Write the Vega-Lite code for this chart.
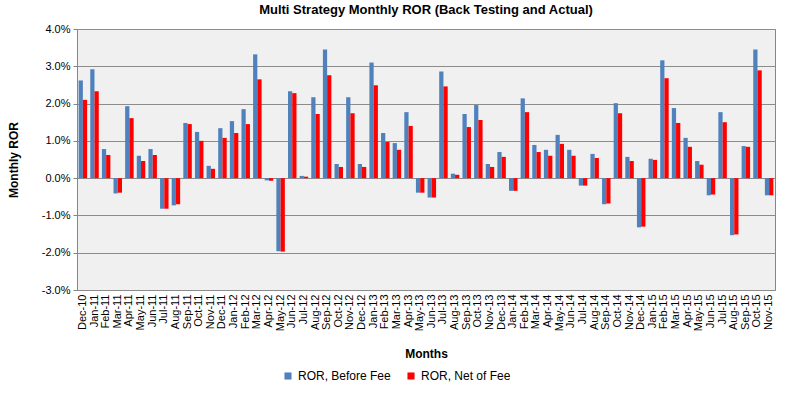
{
  "$schema": "https://vega.github.io/schema/vega-lite/v6.json",
  "width": 698,
  "height": 261,
  "autosize": {"type": "none"},
  "padding": {"left": 77, "top": 29, "right": 13, "bottom": 106},
  "background": "white",
  "title": {
    "text": "Multi Strategy Monthly ROR (Back Testing and Actual)",
    "font": "Liberation Sans Narrow, Liberation Sans, Arial",
    "fontSize": 13,
    "fontWeight": "bold",
    "color": "#000000",
    "anchor": "middle",
    "offset": 6
  },
  "data": {
    "values": [
      {"m": "Dec-10", "b": 2.62, "n": 2.10},
      {"m": "Jan-11", "b": 2.92, "n": 2.33},
      {"m": "Feb-11", "b": 0.78, "n": 0.62},
      {"m": "Mar-11", "b": -0.41, "n": -0.39},
      {"m": "Apr-11", "b": 1.93, "n": 1.61},
      {"m": "May-11", "b": 0.60, "n": 0.46},
      {"m": "Jun-11", "b": 0.78, "n": 0.62},
      {"m": "Jul-11", "b": -0.82, "n": -0.82},
      {"m": "Aug-11", "b": -0.73, "n": -0.70},
      {"m": "Sep-11", "b": 1.48, "n": 1.45},
      {"m": "Oct-11", "b": 1.24, "n": 1.00},
      {"m": "Nov-11", "b": 0.33, "n": 0.25},
      {"m": "Dec-11", "b": 1.34, "n": 1.08},
      {"m": "Jan-12", "b": 1.53, "n": 1.21},
      {"m": "Feb-12", "b": 1.85, "n": 1.45},
      {"m": "Mar-12", "b": 3.32, "n": 2.65},
      {"m": "Apr-12", "b": -0.06, "n": -0.07},
      {"m": "May-12", "b": -1.96, "n": -1.97},
      {"m": "Jun-12", "b": 2.33, "n": 2.28},
      {"m": "Jul-12", "b": 0.06, "n": 0.04},
      {"m": "Aug-12", "b": 2.17, "n": 1.72},
      {"m": "Sep-12", "b": 3.45, "n": 2.76},
      {"m": "Oct-12", "b": 0.38, "n": 0.30},
      {"m": "Nov-12", "b": 2.17, "n": 1.74},
      {"m": "Dec-12", "b": 0.38, "n": 0.30},
      {"m": "Jan-13", "b": 3.10, "n": 2.49},
      {"m": "Feb-13", "b": 1.21, "n": 0.97},
      {"m": "Mar-13", "b": 0.94, "n": 0.76},
      {"m": "Apr-13", "b": 1.77, "n": 1.40},
      {"m": "May-13", "b": -0.39, "n": -0.39},
      {"m": "Jun-13", "b": -0.52, "n": -0.52},
      {"m": "Jul-13", "b": 2.86, "n": 2.46},
      {"m": "Aug-13", "b": 0.12, "n": 0.09},
      {"m": "Sep-13", "b": 1.72, "n": 1.37},
      {"m": "Oct-13", "b": 1.96, "n": 1.56},
      {"m": "Nov-13", "b": 0.38, "n": 0.30},
      {"m": "Dec-13", "b": 0.70, "n": 0.57},
      {"m": "Jan-14", "b": -0.34, "n": -0.34},
      {"m": "Feb-14", "b": 2.14, "n": 1.77},
      {"m": "Mar-14", "b": 0.89, "n": 0.70},
      {"m": "Apr-14", "b": 0.76, "n": 0.60},
      {"m": "May-14", "b": 1.16, "n": 0.92},
      {"m": "Jun-14", "b": 0.76, "n": 0.60},
      {"m": "Jul-14", "b": -0.20, "n": -0.20},
      {"m": "Aug-14", "b": 0.65, "n": 0.54},
      {"m": "Sep-14", "b": -0.70, "n": -0.68},
      {"m": "Oct-14", "b": 2.01, "n": 1.74},
      {"m": "Nov-14", "b": 0.57, "n": 0.46},
      {"m": "Dec-14", "b": -1.32, "n": -1.30},
      {"m": "Jan-15", "b": 0.52, "n": 0.49},
      {"m": "Feb-15", "b": 3.16, "n": 2.68},
      {"m": "Mar-15", "b": 1.88, "n": 1.48},
      {"m": "Apr-15", "b": 1.08, "n": 0.84},
      {"m": "May-15", "b": 0.46, "n": 0.36},
      {"m": "Jun-15", "b": -0.46, "n": -0.44},
      {"m": "Jul-15", "b": 1.77, "n": 1.50},
      {"m": "Aug-15", "b": -1.53, "n": -1.51},
      {"m": "Sep-15", "b": 0.86, "n": 0.84},
      {"m": "Oct-15", "b": 3.45, "n": 2.89},
      {"m": "Nov-15", "b": -0.46, "n": -0.46}
    ]
  },
  "transform": [{"fold": ["b", "n"], "as": ["series", "value"]}],
  "mark": {"type": "bar"},
  "encoding": {
    "x": {
      "field": "m",
      "type": "nominal",
      "sort": null,
      "scale": {"paddingInner": 0.27, "paddingOuter": 0.14},
      "axis": {
        "title": "Months",
        "titleFont": "Liberation Sans Narrow, Liberation Sans, Arial",
        "titleFontSize": 12,
        "titleFontWeight": "bold",
        "titleColor": "#000000",
        "titleY": 63,
        "titleBaseline": "middle",
        "labelAngle": -90,
        "labelFont": "Liberation Sans, Arial",
        "labelFontSize": 11,
        "labelColor": "#000000",
        "labelPadding": 4,
        "ticks": false,
        "domain": false,
        "grid": false
      }
    },
    "xOffset": {
      "field": "series",
      "type": "nominal",
      "scale": {"paddingInner": 0, "paddingOuter": 0}
    },
    "y": {
      "field": "value",
      "type": "quantitative",
      "scale": {"domain": [-3, 4], "nice": false, "zero": false},
      "axis": {
        "values": [-3, -2, -1, 0, 1, 2, 3, 4],
        "labelExpr": "replace(format(datum.value, '.1f'), '\u2212', '-') + '%'",
        "title": "Monthly ROR",
        "titleFont": "Liberation Sans Narrow, Liberation Sans, Arial",
        "titleFontSize": 12,
        "titleFontWeight": "bold",
        "titleColor": "#000000",
        "titleX": -57,
        "labelFont": "Liberation Sans, Arial",
        "labelFontSize": 11,
        "labelColor": "#000000",
        "labelPadding": 3,
        "tickSize": 4,
        "tickColor": "#868686",
        "domainColor": "#868686",
        "gridColor": "#8c8c8c",
        "gridWidth": 1
      }
    },
    "color": {
      "field": "series",
      "type": "nominal",
      "scale": {"domain": ["b", "n"], "range": ["#4F81BD", "#FF0000"]},
      "legend": {
        "orient": "none",
        "direction": "horizontal",
        "legendX": 205,
        "legendY": 341,
        "title": null,
        "symbolType": "square",
        "symbolSize": 50,
        "symbolStrokeWidth": 0,
        "labelFont": "Liberation Sans Narrow, Liberation Sans, Arial",
        "labelFontSize": 12,
        "labelColor": "#000000",
        "columnPadding": 14,
        "labelExpr": "datum.label == 'b' ? 'ROR, Before Fee' : 'ROR, Net of Fee'"
      }
    }
  },
  "config": {
    "view": {"fill": "#F0F0F0", "stroke": "#868686", "strokeWidth": 1}
  }
}
